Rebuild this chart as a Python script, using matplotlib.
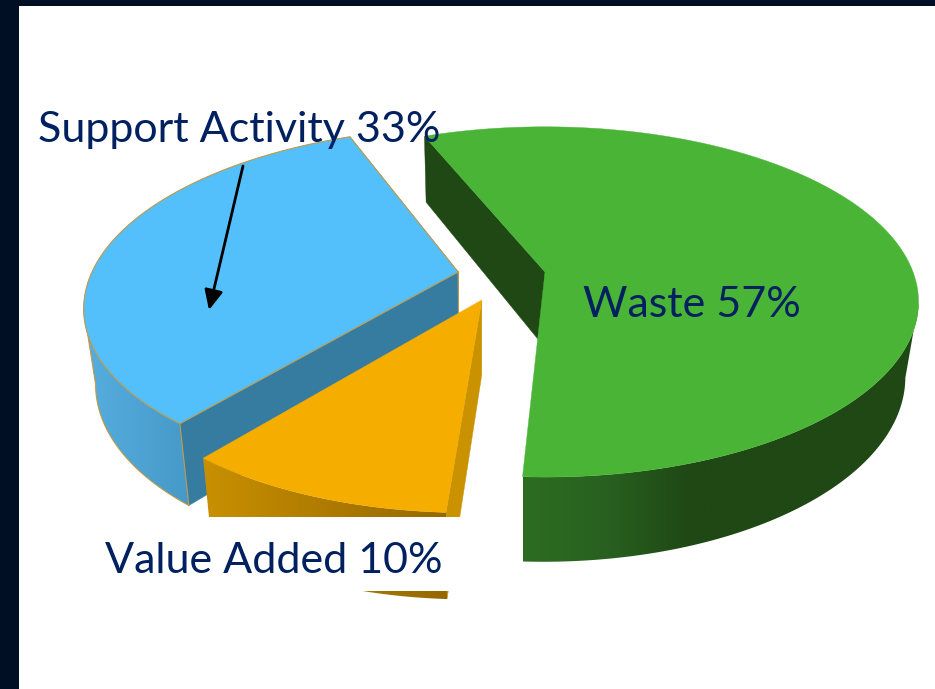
import numpy as np
import matplotlib
matplotlib.use('Agg')
import matplotlib.pyplot as plt
from matplotlib.colors import LinearSegmentedColormap
from matplotlib.patches import Polygon, Rectangle

# Shares of the pie, clockwise from the start angle
labels = ['Waste', 'Value Added', 'Support Activity']
shares = [57, 10, 33]

start_angle = 112.3

# Perspective of the tilted disc, in pixels of the picture
cx, cy = 545, 272
rx, ry = 368, 170
persp = 0.171

# How far each slice is pulled out of the disc, and its radius
offsets = {'Waste': (0, 0), 'Value Added': (-0.167, -0.16), 'Support Activity': (-0.236, 0)}
radii = {'Waste': 1.0, 'Value Added': 0.98, 'Support Activity': 0.995}

styles = {
    'Waste': dict(top='#4ab436', face='#1f4815', wall=[(523, '#2c6c20'), (600, '#296220'), (690, '#1f4815'), (920, '#1f4815')], edge=None),
    'Value Added': dict(top='#f5ae00', face='#cb9200', wall=[(200, '#c99000'), (450, '#956700')], edge=None),
    'Support Activity': dict(top='#53c0fb', face='#367ca0', wall=[(83, '#56afdf'), (190, '#4699c9')], edge='#c29a48'),
}


def project(x, y):
    w = 1 + persp * y
    return cx + rx * x / w, cy - ry * y / w


def drop(px, py):
    # The underside of the disc: a little narrower and further down the picture
    return 480 + (px - 480) * 0.97, py + 66 + 0.055 * (py - 137)


fig = plt.figure(figsize=(9.35, 6.89), dpi=100)
ax = fig.add_axes([0, 0, 1, 1])

# Slide background bands
ax.add_patch(Rectangle((0, 0), 935, 6, color='#000f23', lw=0))
ax.add_patch(Rectangle((0, 0), 19, 689, color='#000f23', lw=0))

# Work out the angles of each slice from the shares
sweeps = {}
angle = start_angle
for name, share in zip(labels, shares):
    sweeps[name] = (angle, angle - share * 3.6)
    angle -= share * 3.6

for name in ['Support Activity', 'Value Added', 'Waste']:
    a0, a1 = sweeps[name]
    st = styles[name]
    ox, oy = offsets[name]
    r = radii[name]
    th = np.radians(np.linspace(a0, a1, 400))
    px, py = project(ox + r * np.cos(th), oy + r * np.sin(th))
    bx, by = drop(px, py)
    ax0, ay0 = project(ox, oy)
    abx, aby = drop(ax0, ay0)

    # radial faces that look towards the viewer
    faces = {'Support Activity': [0, -1], 'Value Added': [0], 'Waste': [0]}[name]
    for i in faces:
        ax.fill([ax0, px[i], bx[i], abx], [ay0, py[i], by[i], aby], color=st['face'], lw=0.3)

    # outer wall only runs over the part of the arc facing the viewer
    # the blue slice is walked from its front corner, so its arc is cut the other way
    if name == 'Support Activity':
        i_top, i_bot = np.argmin(px), np.argmin(bx)
        tx, ty = px[:i_top + 1], py[:i_top + 1]
        ux, uy = bx[:i_bot + 1], by[:i_bot + 1]
    else:
        i_top, i_bot = np.argmax(px), np.argmax(bx)
        tx, ty = px[i_top:], py[i_top:]
        ux, uy = bx[i_bot:], by[i_bot:]
    wall = Polygon(np.c_[np.r_[tx, ux[::-1]], np.r_[ty, uy[::-1]]],
                   closed=True, transform=ax.transData, fc='none', ec='none')
    ax.add_patch(wall)
    xs = np.array([s[0] for s in st['wall']], dtype=float)
    pos = (xs - xs[0]) / (xs[-1] - xs[0])
    cmap = LinearSegmentedColormap.from_list(name, list(zip(pos, [s[1] for s in st['wall']])))
    img = ax.imshow(np.linspace(0, 1, 256)[None, :], cmap=cmap, aspect='auto', vmin=0, vmax=1,
                    extent=(xs[0], xs[-1], 689, 0), interpolation='bilinear', zorder=2)
    img.set_clip_path(wall)

    if st['edge']:
        ax.plot(ux, uy, color=st['edge'], lw=0.8, zorder=2)
        ax.plot([px[i_top], bx[i_bot]], [py[i_top], by[i_bot]], color=st['edge'], lw=0.8, zorder=2)
        ax.plot([px[0], bx[0]], [py[0], by[0]], color=st['edge'], lw=0.8, zorder=2)

    ax.fill(np.r_[ax0, px], np.r_[ay0, py], color=st['top'], lw=0.3, zorder=2)
    if st['edge']:
        ax.plot(np.r_[ax0, px, ax0], np.r_[ay0, py, ay0], color=st['edge'], lw=0.8, zorder=2)
        ax.plot([ax0, abx], [ay0, aby], color=st['edge'], lw=0.8, zorder=2)

# White text box that hides part of the orange wall
ax.add_patch(Rectangle((100, 517), 368, 74, color='white', lw=0, zorder=5))

text_kw = dict(color='#002060', fontsize=31, family='Lato', zorder=6, va='baseline')
ax.text(38, 142, 'Support Activity 33%', **text_kw)
ax.text(583, 317, 'Waste 57%', **text_kw)
ax.text(105, 573, 'Value Added 10%', **text_kw)

ax.annotate('', xy=(209, 310), xytext=(243, 166),
            arrowprops=dict(arrowstyle='-|>,head_length=0.75,head_width=0.35', color='black', lw=2,
                            mutation_scale=16, shrinkA=0, shrinkB=0), zorder=7)

ax.set_xlim(0, 935)
ax.set_ylim(689, 0)
ax.axis('off')

fig.savefig('out.png', dpi=100)
